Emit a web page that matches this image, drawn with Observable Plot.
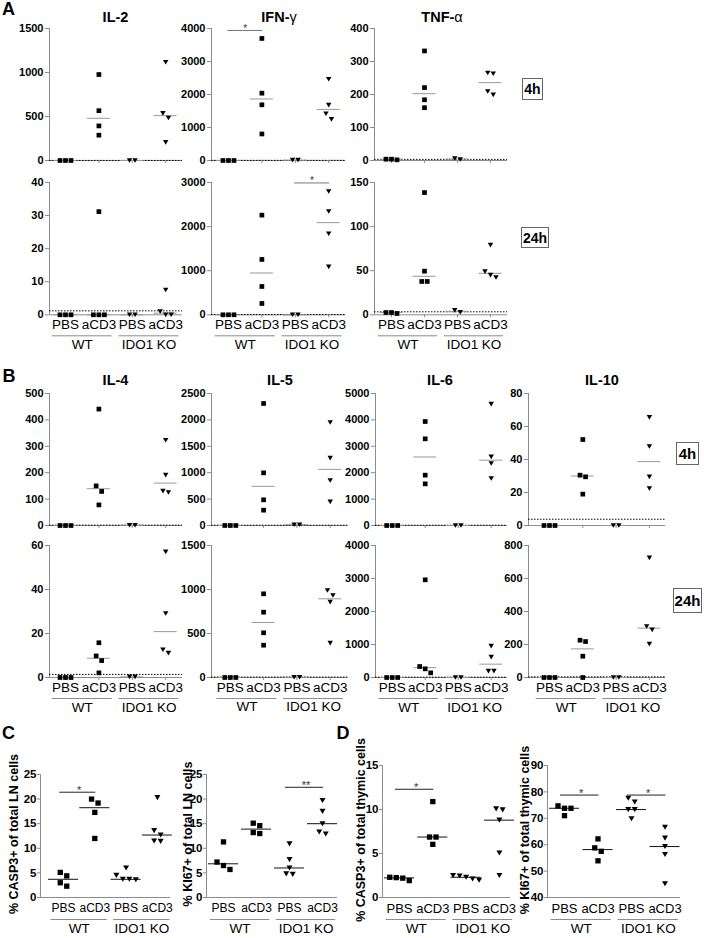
<!DOCTYPE html>
<html><head><meta charset="utf-8">
<script src="https://cdn.jsdelivr.net/npm/d3@7"></script>
<script src="https://cdn.jsdelivr.net/npm/@observablehq/plot@0.6"></script>
<style>
body{margin:0;background:#fff;font-family:"Liberation Sans",Arial,sans-serif;}
#fig{position:relative;width:704px;height:938px;overflow:hidden;background:#fff;}
.t{position:absolute;white-space:nowrap;line-height:1;color:#000;}
.box{position:absolute;border:1px solid #666;box-sizing:border-box;display:flex;align-items:center;justify-content:center;font-weight:bold;line-height:1;color:#000;}
#fig svg{position:absolute;overflow:visible;}
</style></head><body><div id="fig"></div>
<script>
// ---------- data ----------
const GROUPS = ["WT PBS", "WT aCD3", "IDO1 KO PBS", "IDO1 KO aCD3"];
const CAT_LABELS = ["PBS", "aCD3", "PBS", "aCD3"];
const GENOTYPES = ["WT", "IDO1 KO"];

// A: Th1 cytokines, 4h
const il2_4h  = [[0,0,0],[977,566,393,288],[0,0],[1116,536,483,206]];
const ifng_4h = [[0,0,0],[3698,2040,1688,804],[10,10],[2462,1678,1417,1246]];
const tnfa_4h = [[4,2,4],[332,221,184,160],[3,6],[265,263,209,199]];
// A: 24h
const il2_24h  = [[0,0,0],[31.2,0,0,0],[0,0],[7.5,1.0,0,0]];
const ifng_24h = [[0,0,0],[2260,1255,642,257],[0,0],[2797,2343,1837,1088]];
const tnfa_24h = [[2.6,1.5,2.6],[138.6,49.5,37.8,37.8],[2.9,5],[79,49,45,42.3]];
// B: 4h
const il4_4h  = [[0,0,0],[441,150,129,78],[1,1],[323,191,130,125]];
const il5_4h  = [[0,0,0],[2311,997,486,290],[15,15],[1951,1275,852,448]];
const il6_4h  = [[0,0,0],[3939,3283,1907,1578],[0,0],[4596,2601,2348,1780]];
const il10_4h = [[0,0,0],[52.1,30.5,29.5,19],[0,0],[65.5,47.9,29.5,22.4]];
// B: 24h
const il4_24h  = [[0,0,0],[15.8,9.8,7.7,2.1],[0.3,0.3],[57.1,29.1,12.6,11.1]];
const il5_24h  = [[0,0,0],[951,742,508,367],[3,3],[989,932,856,390]];
const il6_24h  = [[0,0,0],[2960,333,263,141],[0,0],[949,616,192,192]];
const il10_24h = [[0,0,0],[226,218,129,0],[0,0],[725,309,289,202]];
// C: lymph node cells (%)
const casp3_ln = [[5.1,4.4,3.0,2.3],[20.0,19.2,17.3,12.0],[6.0,4.5,3.7,3.7,3.6],[20.3,13.6,12.7,11.5,11.4]];
const ki67_ln  = [[11.3,7.2,6.5,5.7],[15.1,14.6,13.2,13.0],[10.9,7.7,6.0,4.8,4.7],[19.7,17.5,15.0,13.3,12.9]];
// D: thymic cells (%)
const casp3_thy = [[2.26,1.92,2.2,2.3],[10.9,6.87,6.87,6.04],[2.1,2.5,1.96,2.45,2.3],[10.07,9.96,8.79,5.06,2.5]];
const ki67_thy  = [[73.8,73.8,74.7,71.0],[62.2,58.8,57.5,53.9],[76.2,77.6,73.3,73.3,69.8],[66.6,62.5,59.3,56.3,45.2]];

// detection limits (dotted lines)
const LOD = {il2: 1.2, ifng: 5, tnfa: 3.4, il4: 1.4, il5: 5, il6: 10, il10: 3.8};

// y-axis ticks
const T_il2_4h = [0,500,1000,1500], T_ifng_4h = [0,1000,2000,3000,4000], T_tnfa_4h = [0,100,200,300,400];
const T_il2_24h = [0,10,20,30,40], T_ifng_24h = [0,1000,2000,3000], T_tnfa_24h = [0,50,100,150];
const T_il4_4h = [0,100,200,300,400,500], T_il5_4h = [0,500,1000,1500,2000,2500], T_il6_4h = [0,1000,2000,3000,4000,5000], T_il10_4h = [0,20,40,60,80];
const T_il4_24h = [0,20,40,60], T_il5_24h = [0,500,1000,1500], T_il6_24h = [0,1000,2000,3000,4000], T_il10_24h = [0,200,400,600,800];
const T_ln = [0,5,10,15,20,25], T_casp3_thy = [0,5,10,15], T_ki67_thy = [40,50,60,70,80,90];

// significance annotations (group indices)
const sig_ifng_4h = [{a:0, b:1, y:3940, t:"*"}];
const sig_ifng_24h = [{a:2, b:3, y:2990, t:"*"}];
const sig_casp3_ln = [{a:0, b:1, y:21.4, t:"*"}];
const sig_ki67_ln = [{a:2, b:3, y:22.4, t:"**"}];
const sig_casp3_thy = [{a:0, b:1, y:12.3, t:"*"}];
const sig_ki67_thy = [{a:0, b:1, y:78.8, t:"*"}, {a:2, b:3, y:78.8, t:"*"}];

// ---------- drawing ----------
const fig = document.getElementById("fig");
const FONT = "Liberation Sans, Arial, sans-serif";
const GRAY = "#8c8c8c";

const triDown = {
  draw(ctx, size) {
    const w = Math.sqrt(size / 0.425), h = 0.85 * w;
    ctx.moveTo(-w / 2, -h / 2);
    ctx.lineTo(w / 2, -h / 2);
    ctx.lineTo(0, h / 2);
    ctx.closePath();
  }
};

function spread(values, ppu, thr, step) {
  const idx = values.map((v, i) => i).sort((a, b) => values[b] - values[a]);
  const off = new Array(values.length).fill(0);
  let cluster = [idx[0]];
  const flush = () => { const n = cluster.length; cluster.forEach((j, k) => off[j] = (k - (n - 1) / 2) * step); };
  for (let k = 1; k < idx.length; k++) {
    if ((values[idx[k - 1]] - values[idx[k]]) * ppu < thr) cluster.push(idx[k]);
    else { flush(); cluster = [idx[k]]; }
  }
  flush();
  return off;
}

function panel(cfg) {
  const {data, ticks, lod, left, right, c0, s, top, bottom, cats, sig = [], kind, catSize = 13.5} = cfg;
  const big = kind === "cell";
  const ymin = ticks[0], ymax = ticks[ticks.length - 1];
  const fh = bottom - top;
  const ppu = fh / (ymax - ymin);
  const mL = 46, mR = 14, mT = 18, mB = cats ? 46 : 10;
  const xd = [(left - c0) / s, (right - c0) / s];
  const pts = [];
  data.forEach((vals, g) => {
    const off = spread(vals, ppu, big ? 5.5 : 6, big ? 6.5 : 5.5);
    vals.forEach((v, i) => pts.push({g, v, x: g + off[i] / s}));
  });
  const meds = data.map((vals, g) => ({g, m: d3.median(vals)}));
  const hw = (big ? 15 : 11.5) / s;
  const marks = [
    Plot.ruleY([ymin], {stroke: GRAY}),
    Plot.ruleX([xd[0]], {stroke: GRAY})
  ];
  if (lod != null) marks.push(Plot.ruleY([lod], {stroke: "#000", strokeDasharray: "1.5,1.5"}));
  marks.push(Plot.axisY({ticks, tickFormat: d => String(d), tickSize: big ? 3 : 4, tickPadding: big ? 1 : 2, stroke: GRAY, fill: "#000",
    fontWeight: "bold", fontSize: big ? 11.5 : 11, label: null}));
  marks.push(Plot.axisX({ticks: [0, 1, 2, 3], tickSize: big ? 0 : 3, tickPadding: big ? 6 : 2,
    tickFormat: cats ? (i => CAT_LABELS[i]) : (() => ""), stroke: GRAY, fill: "#000",
    fontSize: catSize, label: null}));
  marks.push(Plot.ruleY(meds, {y: "m", x1: d => d.g - hw, x2: d => d.g + hw, stroke: big ? "#111" : "#999"}));
  marks.push(Plot.dot(pts.filter(d => d.g < 2), {x: "x", y: "v", symbol: "square", r: big ? 3 : 2.65, fill: "#000"}));
  marks.push(Plot.dot(pts.filter(d => d.g >= 2), {x: "x", y: "v", symbol: triDown, r: big ? 2.2 : 2.0, fill: "#000"}));
  if (sig.length) {
    marks.push(Plot.ruleY(sig, {y: "y", x1: d => d.a - (big ? 0.12 : 0.02), x2: d => d.b + 0.03, stroke: big ? "#222" : "#777"}));
    marks.push(Plot.text(sig, {x: d => (d.a + d.b) / 2, y: "y", text: "t", dy: -2, fontSize: big ? 11 : 10, fill: "#333"}));
  }
  if (cats) {
    marks.push(Plot.ruleY(GENOTYPES, {x1: (d, i) => 2 * i + 0.5 - 0.9, x2: (d, i) => 2 * i + 0.5 + 0.9,
      y: () => ymin, dy: big ? 22 : 21, stroke: GRAY}));
    marks.push(Plot.text(GENOTYPES, {x: (d, i) => 2 * i + 0.5, frameAnchor: "bottom", dy: big ? 35 : 34,
      text: d => d, fontSize: 13.5, fill: "#000"}));
  }
  const svg = Plot.plot({
    width: mL + (right - left) + mR,
    height: mT + fh + mB,
    marginLeft: mL, marginRight: mR, marginTop: mT, marginBottom: mB,
    x: {domain: xd},
    y: {domain: [ymin, ymax]},
    style: {fontFamily: FONT, background: "transparent", overflow: "visible"},
    marks
  });
  svg.style.left = (left - mL) + "px";
  svg.style.top = (top - mT) + "px";
  fig.appendChild(svg);
}

function addText(html, x, y, size, bold, rotate) {
  const d = document.createElement("div");
  d.className = "t";
  d.innerHTML = html;
  d.style.fontSize = size + "px";
  d.style.fontWeight = bold ? "bold" : "normal";
  d.style.left = x + "px";
  d.style.top = y + "px";
  d.style.transform = rotate ? "translate(-50%,-50%) rotate(-90deg)" : "translate(-50%,-50%)";
  fig.appendChild(d);
}
function addBox(txt, x, y, w, h, size) {
  const d = document.createElement("div");
  d.className = "box";
  d.textContent = txt;
  Object.assign(d.style, {left: x + "px", top: y + "px", width: w + "px", height: h + "px", fontSize: size + "px"});
  fig.appendChild(d);
}

// Panel A
const A1 = {top: 28, bottom: 160}, A2 = {top: 181.7, bottom: 314, cats: true};
const colIL2 = {left: 49, right: 182, c0: 65, s: 33.4};
const colIFN = {left: 211, right: 345, c0: 228, s: 33.4};
const colTNF = {left: 374, right: 507, c0: 391, s: 33};
panel({...colIL2, ...A1, data: il2_4h, ticks: T_il2_4h, lod: LOD.il2});
panel({...colIFN, ...A1, data: ifng_4h, ticks: T_ifng_4h, lod: LOD.ifng, sig: sig_ifng_4h});
panel({...colTNF, ...A1, data: tnfa_4h, ticks: T_tnfa_4h, lod: LOD.tnfa});
panel({...colIL2, ...A2, data: il2_24h, ticks: T_il2_24h, lod: LOD.il2});
panel({...colIFN, ...A2, data: ifng_24h, ticks: T_ifng_24h, lod: LOD.ifng, sig: sig_ifng_24h});
panel({...colTNF, ...A2, data: tnfa_24h, ticks: T_tnfa_24h, lod: LOD.tnfa});

// Panel B
const B1 = {top: 393.3, bottom: 525.3}, B2 = {top: 545, bottom: 677, cats: true};
const colIL4 = {left: 49, right: 182, c0: 65, s: 33.4};
const colIL5 = {left: 210.7, right: 347, c0: 229.5, s: 33.3};
const colIL6 = {left: 375, right: 507, c0: 391.7, s: 33};
const colIL10 = {left: 528, right: 665, c0: 549, s: 33.3};
panel({...colIL4, ...B1, data: il4_4h, ticks: T_il4_4h, lod: LOD.il4});
panel({...colIL5, ...B1, data: il5_4h, ticks: T_il5_4h, lod: LOD.il5});
panel({...colIL6, ...B1, data: il6_4h, ticks: T_il6_4h, lod: LOD.il6});
panel({...colIL10, ...B1, data: il10_4h, ticks: T_il10_4h, lod: LOD.il10});
panel({...colIL4, ...B2, data: il4_24h, ticks: T_il4_24h, lod: LOD.il4});
panel({...colIL5, ...B2, data: il5_24h, ticks: T_il5_24h, lod: LOD.il5});
panel({...colIL6, ...B2, data: il6_24h, ticks: T_il6_24h, lod: LOD.il6});
panel({...colIL10, ...B2, data: il10_24h, ticks: T_il10_24h, lod: LOD.il10});

// Panels C and D
panel({left: 40, right: 170, c0: 63, s: 31.3, top: 774, bottom: 897, cats: true, kind: "cell", catSize: 12, data: casp3_ln, ticks: T_ln, sig: sig_casp3_ln});
panel({left: 206, right: 337, c0: 223, s: 33, top: 774, bottom: 897, cats: true, kind: "cell", catSize: 12, data: ki67_ln, ticks: T_ln, sig: sig_ki67_ln});
panel({left: 382, right: 510, c0: 399, s: 33.3, top: 765, bottom: 897, cats: true, kind: "cell", catSize: 13, data: casp3_thy, ticks: T_casp3_thy, sig: sig_casp3_thy});
panel({left: 547, right: 680, c0: 564, s: 33.5, top: 765, bottom: 897, cats: true, kind: "cell", catSize: 13, data: ki67_thy, ticks: T_ki67_thy, sig: sig_ki67_thy});

// Text: panel letters, titles, row labels, axis titles
addText("A", 8.5, 9, 18, true);
addText("B", 9, 376, 18, true);
addText("C", 8.5, 733, 18, true);
addText("D", 343, 733, 18, true);

addText("IL-2", 115.5, 17, 14.5, true);
addText('IFN-<span style="font-weight:normal">γ</span>', 279, 17, 14.5, true);
addText('TNF-<span style="font-weight:normal">α</span>', 442, 17, 14.5, true);
addText("IL-4", 115.5, 380, 14.5, true);
addText("IL-5", 280, 380, 14.5, true);
addText("IL-6", 440, 380, 14.5, true);
addText("IL-10", 602, 380, 14.5, true);

addBox("4h", 522, 78, 21, 22, 14);
addBox("24h", 521, 227, 28, 21, 14);
addBox("4h", 676, 442, 23, 23, 15);
addBox("24h", 673, 588, 29, 25, 15);

addText("% CASP3+ of total LN cells", 14, 834, 12.5, true, true);
addText("% KI67+ of total LN cells", 188, 834, 12.5, true, true);
addText("% CASP3+ of total thymic cells", 361, 830, 12.5, true, true);
addText("% KI67+ of total thymic cells", 525, 830, 12.5, true, true);
</script></body></html>
